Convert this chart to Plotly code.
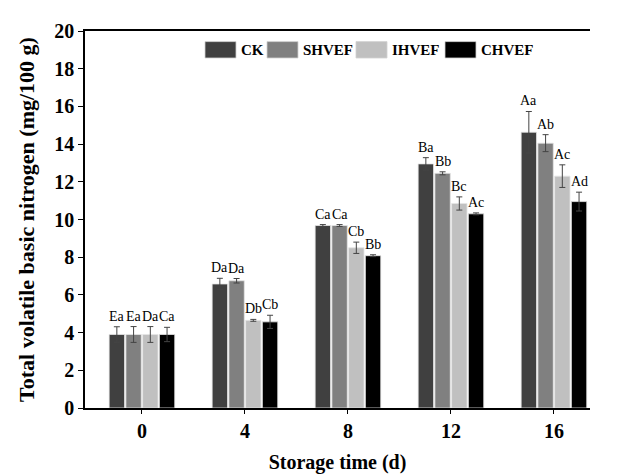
import plotly.graph_objects as go

days = ["0", "4", "8", "12", "16"]
series = ["CK", "SHVEF", "IHVEF", "CHVEF"]
colors = ["#404040", "#808080", "#c0c0c0", "#000000"]

ck = [3.90, 6.58, 9.68, 12.95, 14.63]
shvef = [3.90, 6.75, 9.68, 12.45, 14.05]
ihvef = [3.90, 4.65, 8.50, 10.85, 12.30]
chvef = [3.90, 4.57, 8.08, 10.30, 10.95]

ck_err = [0.41, 0.30, 0.05, 0.33, 1.10]
shvef_err = [0.42, 0.12, 0.05, 0.08, 0.45]
ihvef_err = [0.42, 0.05, 0.30, 0.35, 0.60]
chvef_err = [0.38, 0.35, 0.05, 0.05, 0.50]

ck_lbl = ["Ea", "Da", "Ca", "Ba", "Aa"]
shvef_lbl = ["Ea", "Da", "Ca", "Bb", "Ab"]
ihvef_lbl = ["Da", "Db", "Cb", "Bc", "Ac"]
chvef_lbl = ["Ca", "Cb", "Bb", "Ac", "Ad"]

values = [ck, shvef, ihvef, chvef]
errors = [ck_err, shvef_err, ihvef_err, chvef_err]
labels = [ck_lbl, shvef_lbl, ihvef_lbl, chvef_lbl]

FONT = "Liberation Serif, Times New Roman, serif"
W, H = 634, 474
L, R, T, B = 77, 52, 16, 67
BARGAP = 0.35
xpos = list(range(len(days)))

fig = go.Figure()
for i, name in enumerate(series):
    fig.add_trace(go.Bar(
        x=xpos, y=values[i], name=name,
        marker=dict(color=colors[i], line=dict(color="#e6e6e6", width=0.8)),
        error_y=dict(type="data", array=errors[i], color="#444444",
                     thickness=1, width=3),
        showlegend=False,
    ))

# letter annotations
gw = 1 - BARGAP
slot = gw / len(series)
ann = []
for i in range(len(series)):
    off = -gw / 2 + slot * (i + 0.5)
    for j in range(len(days)):
        ann.append(dict(
            x=xpos[j] + off, y=values[i][j] + errors[i][j],
            xref="x", yref="y", text=labels[i][j], showarrow=False,
            yanchor="bottom", yshift=1,
            font=dict(family=FONT, size=14, color="#000000")))

# custom legend (pixel positions converted to paper coords)
pw = W - L - R
ph = H - T - B
def px_x(p):
    return (p - L) / pw
def px_y(p):
    return 1 - (p - T) / ph

sw_x = [197, 259, 348, 437]
sw_w = 31
shapes = []
for i, name in enumerate(series):
    shapes.append(dict(type="rect", xref="paper", yref="paper",
                       x0=px_x(sw_x[i]), x1=px_x(sw_x[i] + sw_w),
                       y0=px_y(44), y1=px_y(27),
                       fillcolor=colors[i], line=dict(color="#d0d0d0", width=0.8)))
    ann.append(dict(x=px_x(sw_x[i] + sw_w + 3), y=px_y(35.5), xref="paper", yref="paper",
                    text="<b>" + name + "</b>", showarrow=False,
                    xanchor="left", yanchor="middle",
                    font=dict(family=FONT, size=15, color="#000000")))

fig.update_layout(
    width=W, height=H,
    margin=dict(l=L, r=R, t=T, b=B),
    barmode="group", bargap=BARGAP, bargroupgap=0.08,
    plot_bgcolor="white", paper_bgcolor="white",
    font=dict(family=FONT, color="#000000"),
    annotations=ann, shapes=shapes,
    xaxis=dict(
        range=[-0.553, 4.35], tickvals=xpos, ticktext=["<b>%s</b>" % d for d in days],
        showline=True, linecolor="#000000", linewidth=1.5, mirror=True,
        ticks="outside", ticklen=4, tickcolor="#000000", tickwidth=1.2,
        showgrid=False, zeroline=False,
        tickfont=dict(family=FONT, size=20, color="#000000"),
        title=dict(text="<b>Storage time (d)</b>", standoff=14,
                   font=dict(family=FONT, size=20, color="#000000")),
    ),
    yaxis=dict(
        range=[0, 20], dtick=2, tickformat="d",
        showline=True, linecolor="#000000", linewidth=1.5,
        ticks="outside", ticklen=5, tickcolor="#000000", tickwidth=1.2,
        showgrid=False, zeroline=False,
        tickfont=dict(family=FONT, size=20, color="#000000"),
        title=dict(text="<b>Total volatile basic nitrogen (mg/100 g)</b>", standoff=14,
                   font=dict(family=FONT, size=22, color="#000000")),
    ),
)
fig.update_yaxes(tickprefix="<b>", ticksuffix="</b>")

fig.write_html("out.html")
